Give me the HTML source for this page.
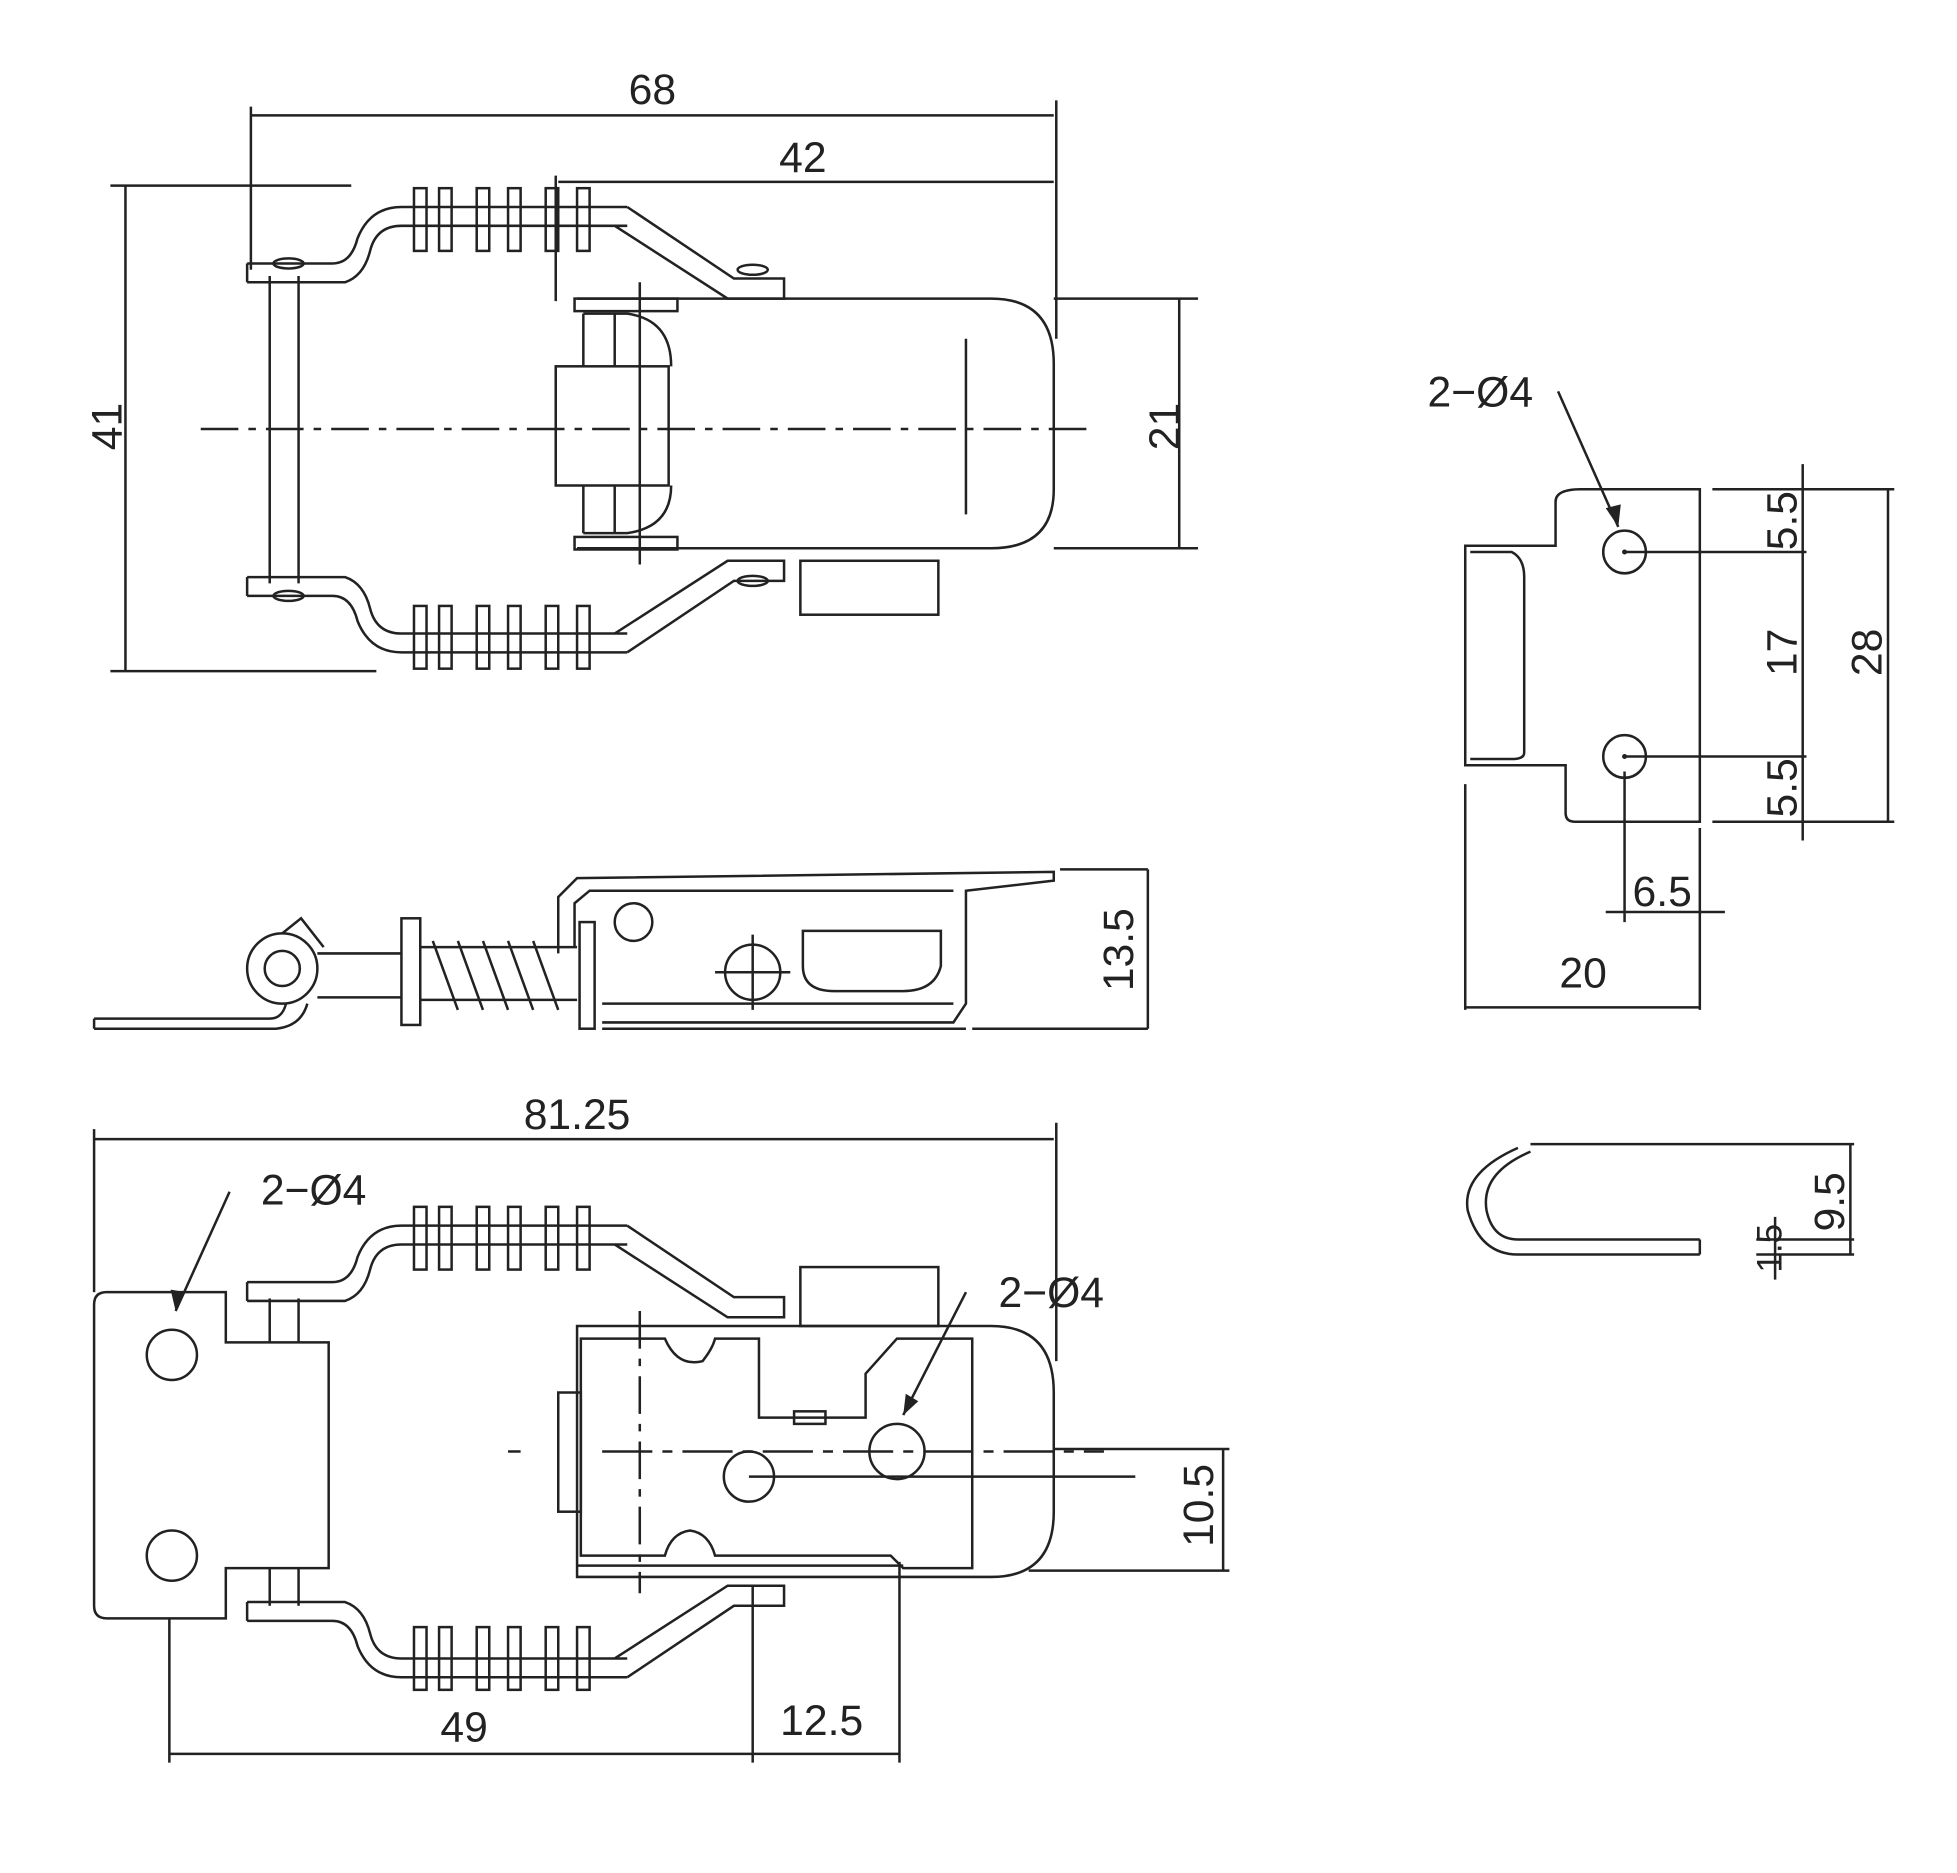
<!DOCTYPE html>
<html><head><meta charset="utf-8"><style>
html,body{margin:0;padding:0;background:#fff;}
svg{display:block}
text{font-family:"Liberation Sans",sans-serif;font-size:34px;fill:#222}
</style></head><body>
<svg width="1957" height="1873" viewBox="0 0 1560 1493" preserveAspectRatio="none" xmlns="http://www.w3.org/2000/svg">
<g fill="none" stroke="#222" stroke-width="2">
<!-- TOP VIEW dims -->
<line x1="200" y1="92" x2="840" y2="92"/><line x1="200" y1="85" x2="200" y2="215"/><line x1="842" y1="80" x2="842" y2="270"/>
<line x1="445" y1="145" x2="840" y2="145"/><line x1="443" y1="140" x2="443" y2="240"/>
<line x1="100" y1="148" x2="100" y2="535"/><line x1="88" y1="148" x2="280" y2="148"/><line x1="88" y1="535" x2="300" y2="535"/>
<line x1="940" y1="238" x2="940" y2="437"/><line x1="840" y1="238" x2="955" y2="238"/><line x1="840" y1="437" x2="955" y2="437"/>
<line x1="160" y1="342" x2="870" y2="342" stroke-dasharray="30,8,6,8"/>
<line x1="770" y1="270" x2="770" y2="410"/>
<!-- body -->
<path d="M460 238 H790 Q840 238 840 290 V390 Q840 437 790 437 H460"/>
<rect x="443" y="292" width="90" height="95"/>
<rect x="458" y="238" width="82" height="10"/><rect x="458" y="428" width="82" height="10"/>
<path d="M465 250 H500 Q535 255 535 292"/><path d="M465 425 H500 Q535 420 535 387"/>
<line x1="465" y1="250" x2="465" y2="292"/><line x1="465" y1="387" x2="465" y2="425"/>
<line x1="490" y1="250" x2="490" y2="292"/><line x1="490" y1="387" x2="490" y2="425"/>
<line x1="510" y1="225" x2="510" y2="450"/>
<rect x="638" y="447" width="110" height="43"/>
<!-- rod -->
<line x1="215" y1="220" x2="215" y2="465"/><line x1="238" y1="220" x2="238" y2="465"/>
<!-- top arm -->
<path d="M197 210 H265 Q280 210 285 190 Q295 165 320 165 H500"/>
<path d="M197 225 H275 Q290 220 295 200 Q300 180 320 180 H500"/>
<line x1="197" y1="210" x2="197" y2="225"/>
<path d="M500 165 L585 222 H625 V238 H580 L490 180"/>
<ellipse cx="230" cy="210" rx="12" ry="4"/><ellipse cx="600" cy="215" rx="12" ry="4"/>
<g>
<rect x="330" y="150" width="10" height="50"/><rect x="350" y="150" width="10" height="50"/><rect x="380" y="150" width="10" height="50"/><rect x="405" y="150" width="10" height="50"/><rect x="435" y="150" width="10" height="50"/><rect x="460" y="150" width="10" height="50"/>
</g>
<!-- bottom arm -->
<path d="M197 475 H265 Q280 475 285 495 Q295 520 320 520 H500"/>
<path d="M197 460 H275 Q290 465 295 485 Q300 505 320 505 H500"/>
<line x1="197" y1="460" x2="197" y2="475"/>
<path d="M500 520 L585 463 H625 V447 H580 L490 505"/>
<ellipse cx="230" cy="475" rx="12" ry="4"/><ellipse cx="600" cy="463" rx="12" ry="4"/>
<rect x="330" y="483" width="10" height="50"/><rect x="350" y="483" width="10" height="50"/><rect x="380" y="483" width="10" height="50"/><rect x="405" y="483" width="10" height="50"/><rect x="435" y="483" width="10" height="50"/><rect x="460" y="483" width="10" height="50"/>

<!-- SIDE VIEW -->
<path d="M75 812 H215 Q225 812 228 800"/><path d="M75 820 H220 Q240 818 245 800"/><line x1="75" y1="812" x2="75" y2="820"/>
<circle cx="225" cy="772" r="28"/><circle cx="225" cy="772" r="14"/>
<path d="M225 744 L240 732 L258 755"/>
<line x1="253" y1="760" x2="320" y2="760"/><line x1="253" y1="795" x2="320" y2="795"/>
<rect x="320" y="732" width="15" height="85"/>
<line x1="335" y1="755" x2="460" y2="755"/><line x1="335" y1="797" x2="460" y2="797"/>
<path d="M345 750 L365 805 M365 750 L385 805 M385 750 L405 805 M405 750 L425 805 M425 750 L445 805"/>
<rect x="462" y="735" width="12" height="85"/>
<path d="M445 760 V715 L460 700 L840 695 V702 L770 710 V800 L760 815 H480"/>
<path d="M458 755 V720 L470 710 H760"/>
<line x1="480" y1="800" x2="760" y2="800"/>
<line x1="480" y1="820" x2="770" y2="820"/>
<circle cx="600" cy="775" r="22"/><line x1="570" y1="775" x2="630" y2="775"/><line x1="600" y1="745" x2="600" y2="805"/>
<circle cx="505" cy="735" r="15"/>
<path d="M640 742 H750 V770 Q745 790 720 790 H665 Q640 790 640 770 Z"/>
<line x1="915" y1="693" x2="915" y2="820"/><line x1="845" y1="693" x2="915" y2="693"/><line x1="775" y1="820" x2="915" y2="820"/>

<!-- BOTTOM VIEW -->
<line x1="75" y1="908" x2="840" y2="908"/><line x1="75" y1="900" x2="75" y2="1030"/><line x1="842" y1="895" x2="842" y2="1085"/>
<path d="M85 1030 H180 V1070 H262 V1250 H180 V1290 H85 Q75 1290 75 1280 V1040 Q75 1030 85 1030 Z"/>
<circle cx="137" cy="1080" r="20"/><circle cx="137" cy="1240" r="20"/>
<line x1="183" y1="950" x2="140" y2="1045"/>
<line x1="215" y1="1035" x2="215" y2="1070"/><line x1="238" y1="1035" x2="238" y2="1070"/>
<line x1="215" y1="1250" x2="215" y2="1280"/><line x1="238" y1="1250" x2="238" y2="1280"/>
<path d="M197 1022 H265 Q280 1022 285 1002 Q295 977 320 977 H500"/>
<path d="M197 1037 H275 Q290 1032 295 1012 Q300 992 320 992 H500"/>
<line x1="197" y1="1022" x2="197" y2="1037"/>
<path d="M500 977 L585 1034 H625 V1050 H580 L490 992"/>
<rect x="330" y="962" width="10" height="50"/><rect x="350" y="962" width="10" height="50"/><rect x="380" y="962" width="10" height="50"/><rect x="405" y="962" width="10" height="50"/><rect x="435" y="962" width="10" height="50"/><rect x="460" y="962" width="10" height="50"/>
<path d="M197 1292 H265 Q280 1292 285 1312 Q295 1337 320 1337 H500"/>
<path d="M197 1277 H275 Q290 1282 295 1302 Q300 1322 320 1322 H500"/>
<line x1="197" y1="1277" x2="197" y2="1292"/>
<path d="M500 1337 L585 1280 H625 V1264 H580 L490 1322"/>
<rect x="330" y="1297" width="10" height="50"/><rect x="350" y="1297" width="10" height="50"/><rect x="380" y="1297" width="10" height="50"/><rect x="405" y="1297" width="10" height="50"/><rect x="435" y="1297" width="10" height="50"/><rect x="460" y="1297" width="10" height="50"/>
<rect x="638" y="1010" width="110" height="47"/>
<path d="M460 1057 H790 Q840 1057 840 1110 V1205 Q840 1257 790 1257 H460 Z"/>
<path d="M463 1067 H530 Q540 1090 560 1085 Q568 1075 570 1067 H605 V1130 H690 V1095 L715 1067 H775 V1250 H720 L710 1240 H570 Q565 1222 550 1220 Q535 1222 530 1240 H463 Z"/>
<rect x="445" y="1110" width="18" height="95"/><rect x="633" y="1125" width="25" height="10"/>
<line x1="460" y1="1248" x2="720" y2="1248"/>
<line x1="405" y1="1157" x2="415" y2="1157"/>
<line x1="480" y1="1157" x2="880" y2="1157" stroke-dasharray="40,8,8,8"/>
<line x1="510" y1="1045" x2="510" y2="1270" stroke-dasharray="30,8,6,8"/>
<circle cx="597" cy="1177" r="20"/><circle cx="715" cy="1157" r="22"/>
<line x1="597" y1="1177" x2="905" y2="1177"/>
<line x1="770" y1="1030" x2="720" y2="1128"/>
<line x1="975" y1="1155" x2="975" y2="1252"/><line x1="840" y1="1155" x2="980" y2="1155"/><line x1="820" y1="1252" x2="980" y2="1252"/>
<line x1="135" y1="1398" x2="600" y2="1398"/><line x1="135" y1="1290" x2="135" y2="1405"/><line x1="600" y1="1265" x2="600" y2="1405"/>
<line x1="600" y1="1398" x2="717" y2="1398"/><line x1="717" y1="1245" x2="717" y2="1405"/>

<!-- RIGHT PLATE -->
<path d="M1260 390 H1355 V655 H1255 Q1248 655 1248 648 V610 H1168 V435 H1240 V400 Q1240 390 1260 390 Z"/>
<path d="M1172 440 H1205 Q1215 445 1215 460 V600 Q1215 605 1205 605 H1172"/>
<circle cx="1295" cy="440" r="17"/><circle cx="1295" cy="603" r="17"/>
<line x1="1295" y1="440" x2="1440" y2="440"/><line x1="1295" y1="603" x2="1440" y2="603"/>
<line x1="1365" y1="390" x2="1510" y2="390"/><line x1="1365" y1="655" x2="1510" y2="655"/>
<line x1="1437" y1="370" x2="1437" y2="670"/><line x1="1505" y1="390" x2="1505" y2="655"/>
<line x1="1242" y1="312" x2="1290" y2="420"/>
<line x1="1280" y1="727" x2="1375" y2="727"/><line x1="1295" y1="615" x2="1295" y2="735"/>
<line x1="1168" y1="803" x2="1355" y2="803"/><line x1="1168" y1="625" x2="1168" y2="805"/><line x1="1355" y1="660" x2="1355" y2="805"/>
<!-- HOOK -->
<path d="M1210 915 Q1165 935 1170 965 Q1180 1000 1210 1000 H1355"/>
<path d="M1220 918 Q1180 935 1185 965 Q1190 988 1210 988 H1355"/>
<line x1="1355" y1="988" x2="1355" y2="1000"/>
<line x1="1220" y1="912" x2="1478" y2="912"/>
<line x1="1475" y1="912" x2="1475" y2="1000"/>
<line x1="1400" y1="988" x2="1478" y2="988"/><line x1="1400" y1="1000" x2="1478" y2="1000"/>
<line x1="1415" y1="970" x2="1415" y2="1020"/>
</g>
<g>
<circle cx="1295" cy="440" r="2" fill="#222"/><circle cx="1295" cy="603" r="2" fill="#222"/>
<polygon points="1290,420 1280,405 1292,402" fill="#222"/>
<polygon points="140,1045 136,1028 148,1030" fill="#222"/>
<polygon points="720,1128 722,1111 732,1117" fill="#222"/>
</g>
<text x="520" y="83" text-anchor="middle">68</text>
<text x="640" y="137" text-anchor="middle">42</text>
<text transform="translate(97,340) rotate(-90)" text-anchor="middle">41</text>
<text transform="translate(940,340) rotate(-90)" text-anchor="middle">21</text>
<text transform="translate(903,757) rotate(-90)" text-anchor="middle">13.5</text>
<text x="460" y="900" text-anchor="middle">81.25</text>
<text x="250" y="960" text-anchor="middle">2−Ø4</text>
<text x="838" y="1042" text-anchor="middle">2−Ø4</text>
<text transform="translate(967,1200) rotate(-90)" text-anchor="middle">10.5</text>
<text x="370" y="1388" text-anchor="middle">49</text>
<text x="655" y="1383" text-anchor="middle">12.5</text>
<text x="1180" y="324" text-anchor="middle">2−Ø4</text>
<text transform="translate(1432,415) rotate(-90)" text-anchor="middle">5.5</text>
<text transform="translate(1432,520) rotate(-90)" text-anchor="middle">17</text>
<text transform="translate(1432,628) rotate(-90)" text-anchor="middle">5.5</text>
<text transform="translate(1500,520) rotate(-90)" text-anchor="middle">28</text>
<text x="1325" y="722" text-anchor="middle">6.5</text>
<text x="1262" y="787" text-anchor="middle">20</text>
<text transform="translate(1470,958) rotate(-90)" text-anchor="middle">9.5</text>
<text transform="translate(1420,995) rotate(-90)" text-anchor="middle" style="font-size:28px">1.5</text>
</svg>
</body></html>
